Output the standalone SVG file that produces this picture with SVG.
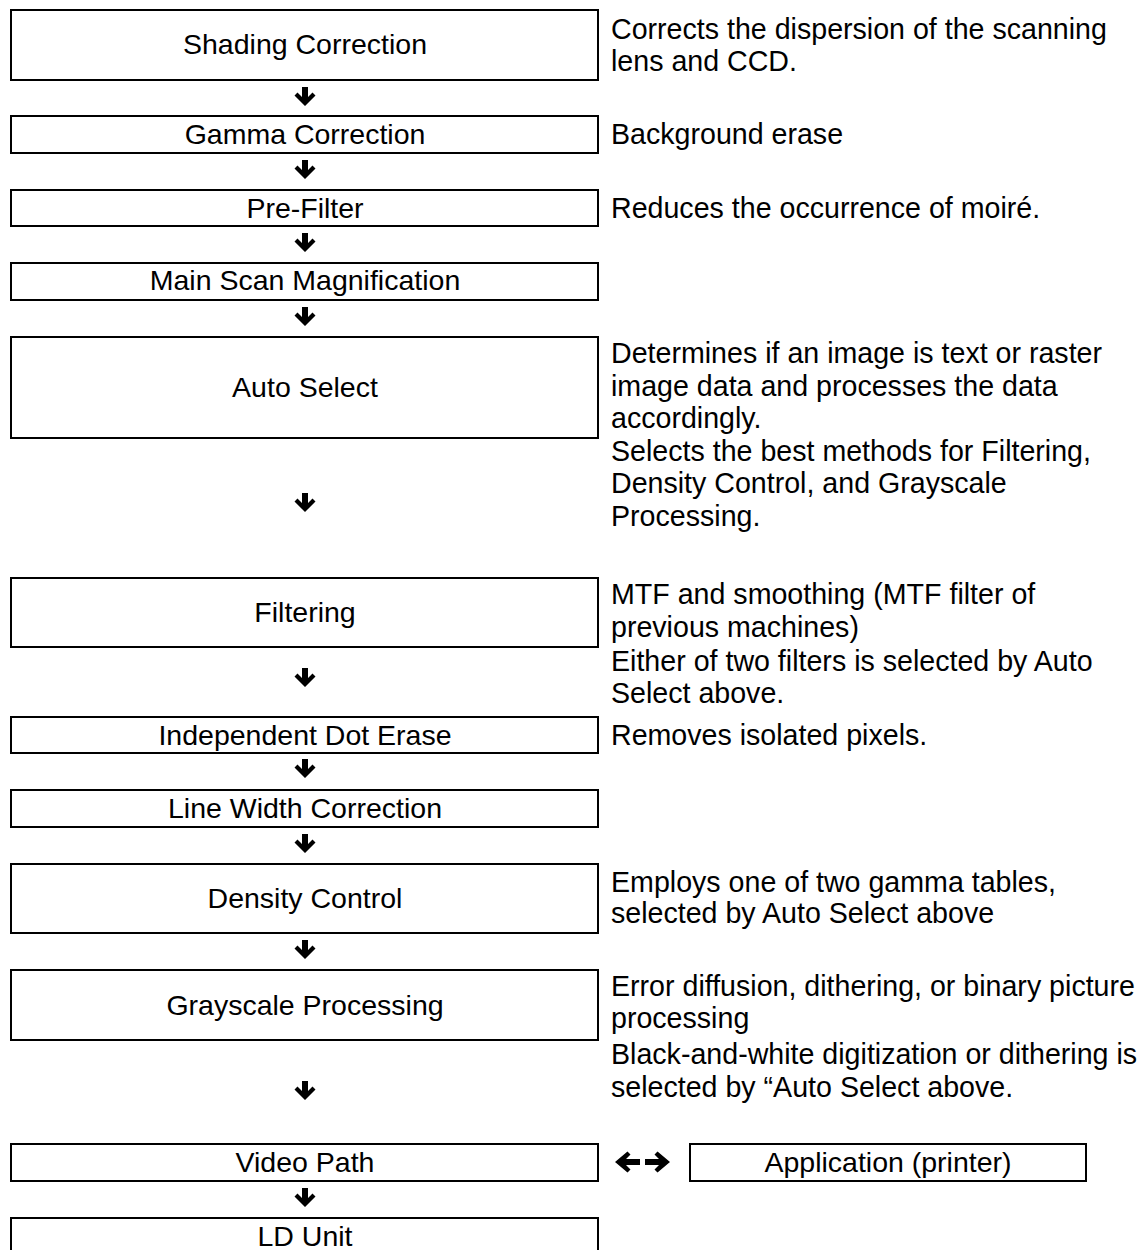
<svg xmlns="http://www.w3.org/2000/svg" xmlns:xlink="http://www.w3.org/1999/xlink" width="1143" height="1250" viewBox="0 0 1143 1250">
<style>
  .box { fill: #ffffff; stroke: #000000; stroke-width: 2; }
  .lbl { font-family: "Liberation Sans", Arial, sans-serif; font-size: 28.5px; fill: #000000; text-anchor: middle; }
  .desc { font-family: "Liberation Sans", Arial, sans-serif; font-size: 28.6px; fill: #000000; }
  .arw { fill: #000000; }
</style>
<defs>
  <path id="down" d="M-3,0 H3 V10 L7.5,5.5 L10.5,8.5 L0,19 L-10.5,8.5 L-7.5,5.5 L-3,10 Z"/>
  <path id="right" d="M0,-3 H14 L9.5,-7.5 L12.5,-10.5 L25,0 L12.5,10.5 L9.5,7.5 L14,3 H0 Z"/>
</defs>
<rect width="1143" height="1250" fill="#ffffff"/>

<g id="shading">
  <rect class="box" x="11" y="10" width="587" height="70"/>
  <text class="lbl" x="305" y="54">Shading Correction</text>
  <text class="desc" x="611" y="39">Corrects the dispersion of the scanning</text>
  <text class="desc" x="611" y="71">lens and CCD.</text>
</g>
<g id="gamma">
  <rect class="box" x="11" y="116" width="587" height="37"/>
  <text class="lbl" x="305" y="144">Gamma Correction</text>
  <text class="desc" x="611" y="144">Background erase</text>
</g>
<g id="prefilter">
  <rect class="box" x="11" y="190" width="587" height="36"/>
  <text class="lbl" x="305" y="218">Pre-Filter</text>
  <text class="desc" x="611" y="218">Reduces the occurrence of moiré.</text>
</g>
<g id="mainscan">
  <rect class="box" x="11" y="263" width="587" height="37"/>
  <text class="lbl" x="305" y="290">Main Scan Magnification</text>
</g>
<g id="autoselect">
  <rect class="box" x="11" y="337" width="587" height="101"/>
  <text class="lbl" x="305" y="397">Auto Select</text>
  <text class="desc" x="611" y="363">Determines if an image is text or raster</text>
  <text class="desc" x="611" y="395.5">image data and processes the data</text>
  <text class="desc" x="611" y="428">accordingly.</text>
  <text class="desc" x="611" y="460.5">Selects the best methods for Filtering,</text>
  <text class="desc" x="611" y="493">Density Control, and Grayscale</text>
  <text class="desc" x="611" y="525.5">Processing.</text>
</g>
<g id="filtering">
  <rect class="box" x="11" y="578" width="587" height="69"/>
  <text class="lbl" x="305" y="622">Filtering</text>
  <text class="desc" x="611" y="604">MTF and smoothing (MTF filter of</text>
  <text class="desc" x="611" y="636.5">previous machines)</text>
  <text class="desc" x="611" y="671">Either of two filters is selected by Auto</text>
  <text class="desc" x="611" y="703">Select above.</text>
</g>
<g id="dot-erase">
  <rect class="box" x="11" y="717" width="587" height="36"/>
  <text class="lbl" x="305" y="745">Independent Dot Erase</text>
  <text class="desc" x="611" y="745">Removes isolated pixels.</text>
</g>
<g id="line-width">
  <rect class="box" x="11" y="790" width="587" height="37"/>
  <text class="lbl" x="305" y="818">Line Width Correction</text>
</g>
<g id="density">
  <rect class="box" x="11" y="864" width="587" height="69"/>
  <text class="lbl" x="305" y="908">Density Control</text>
  <text class="desc" x="611" y="892">Employs one of two gamma tables,</text>
  <text class="desc" x="611" y="923">selected by Auto Select above</text>
</g>
<g id="grayscale">
  <rect class="box" x="11" y="970" width="587" height="70"/>
  <text class="lbl" x="305" y="1015">Grayscale Processing</text>
  <text class="desc" x="611" y="996">Error diffusion, dithering, or binary picture</text>
  <text class="desc" x="611" y="1028">processing</text>
  <text class="desc" x="611" y="1064">Black-and-white digitization or dithering is</text>
  <text class="desc" x="611" y="1097">selected by “Auto Select above.</text>
</g>
<g id="video-path">
  <rect class="box" x="11" y="1144" width="587" height="37"/>
  <text class="lbl" x="305" y="1172">Video Path</text>
</g>
<g id="application">
  <rect class="box" x="690" y="1144" width="396" height="37"/>
  <text class="lbl" x="888" y="1172">Application (printer)</text>
</g>
<g id="ld-unit">
  <rect class="box" x="11" y="1218" width="587" height="40"/>
  <text class="lbl" x="305" y="1246">LD Unit</text>
</g>

<g id="connectors" class="arw">
  <use xlink:href="#down" x="305" y="87"/>
  <use xlink:href="#down" x="305" y="160"/>
  <use xlink:href="#down" x="305" y="233"/>
  <use xlink:href="#down" x="305" y="307"/>
  <use xlink:href="#down" x="305" y="493"/>
  <use xlink:href="#down" x="305" y="668"/>
  <use xlink:href="#down" x="305" y="759"/>
  <use xlink:href="#down" x="305" y="834"/>
  <use xlink:href="#down" x="305" y="940"/>
  <use xlink:href="#down" x="305" y="1081"/>
  <use xlink:href="#down" x="305" y="1188"/>
  <use xlink:href="#right" transform="translate(640,1162) scale(-1,1)"/>
  <use xlink:href="#right" transform="translate(645,1162)"/>
</g>
</svg>
